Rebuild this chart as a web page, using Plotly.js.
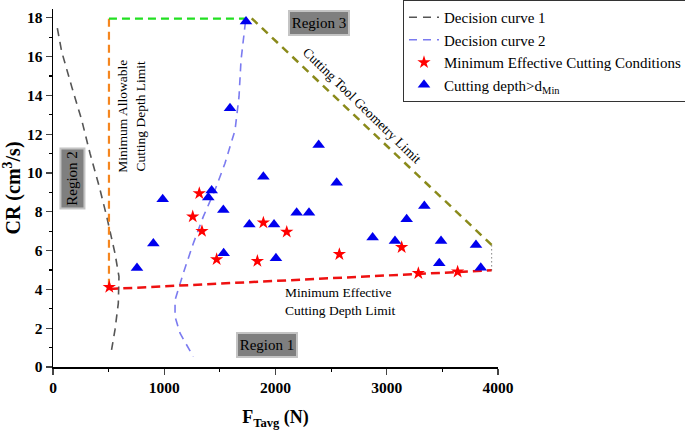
<!DOCTYPE html>
<html>
<head>
<meta charset="utf-8">
<script src="https://cdn.plot.ly/plotly-3.0.1.min.js"></script>
<style>html,body{margin:0;padding:0;background:#fff}#chart{width:685px;height:430px}</style>
</head>
<body>
<div id="chart"></div>
<script>
// Decision curves
const dc1X = [39, 78, 168, 258, 333, 416, 483, 557, 593, 587, 557, 521];
const dc1Y = [17.46, 16.25, 14.45, 12.73, 11.0, 9.29, 7.75, 5.86, 4.66, 3.28, 1.91, 0.7];
const dc2X = [1730, 1690, 1672, 1636, 1546, 1456, 1351, 1261, 1171, 1097, 1097, 1142, 1261];
const dc2Y = [17.8, 15.8, 13.93, 12.2, 10.5, 9.12, 7.75, 6.37, 4.83, 3.45, 2.59, 1.74, 0.53];
// Limits
const minDepthX = [503, 503];
const minDepthY = [17.95, 4.06];
const crLimitX = [503, 1740];
const crLimitY = [17.95, 17.95];
const geomX = [1786, 3943];
const geomY = [17.97, 6.29];
const effX = [506, 3943];
const effY = [4.02, 4.98];
const ftX = [3943, 3943];
const ftY = [4.98, 6.29];
// Points
const starX = [506, 1315, 1256, 1339, 1471, 1837, 1891, 2101, 2574, 3134, 3284, 3637];
const starY = [4.12, 8.95, 7.75, 7.0, 5.55, 5.46, 7.44, 6.96, 5.81, 6.17, 4.83, 4.91];
const triX = [755, 902, 986, 1396, 1426, 1531, 1591, 1735, 1534, 1765, 1891, 1987, 2004, 2190, 2301, 2388, 2550, 2873, 3074, 3179, 3338, 3488, 3472, 3802, 3845];
const triY = [5.1, 6.37, 8.64, 8.73, 9.09, 8.09, 13.33, 17.8, 5.86, 7.35, 9.81, 7.35, 5.6, 7.95, 7.95, 11.44, 9.5, 6.68, 6.49, 7.61, 8.3, 6.49, 5.35, 6.29, 5.12];

const F = 'Liberation Serif';
const line = (x, y, color, width, dash, name, show) => ({
  x: x, y: y, type: 'scatter', mode: 'lines', name: name || ' ', showlegend: !!show,
  line: {color: color, width: width, dash: dash}, hoverinfo: 'skip', cliponaxis: false
});

const traces = [
  line(dc1X, dc1Y, '#555555', 1.6, '8px,6px', 'Decision curve 1', true),
  line(dc2X, dc2Y, '#7b7bf0', 1.6, '8px,6px', 'Decision curve 2', true),
  line(minDepthX, minDepthY, '#f5861f', 2.2, '8px,5px'),
  line(crLimitX, crLimitY, '#22e022', 2.2, '8px,5px'),
  line(geomX, geomY, '#8a8a1a', 2.5, '8px,6px'),
  line(effX, effY, '#ee1111', 2.5, '9px,5px'),
  line(ftX, ftY, '#444444', 1, '1px,3px'),
  {x: starX, y: starY, type: 'scatter', mode: 'markers', name: 'Minimum Effective Cutting Conditions',
   marker: {symbol: 'star', size: 10, color: '#ff0000'}, cliponaxis: false},
  {x: triX, y: triY, type: 'scatter', mode: 'markers', name: 'Cutting depth>d<sub>Min</sub>',
   marker: {symbol: 'triangle-up', size: 11, color: '#0000ee'}, cliponaxis: false}
];

const region = (text, x, y, angle) => ({
  x: x, y: y, xref: 'x', yref: 'y', text: text, showarrow: false, textangle: angle || 0,
  font: {family: F, size: 15, color: '#000'}, bgcolor: '#7f7f7f', bordercolor: '#c4c4c4',
  borderwidth: 2, borderpad: 1, width: 56, height: 20
});
const label = (text, x, y, angle, size, align) => ({
  x: x, y: y, xref: 'x', yref: 'y', text: text, showarrow: false, textangle: angle || 0,
  font: {family: F, size: size || 13.5, color: '#000'}, align: align || 'center'
});

const layout = {
  width: 685, height: 430,
  margin: {l: 53, r: 187, t: 9, b: 63, autoexpand: false},
  paper_bgcolor: '#fff', plot_bgcolor: '#fff',
  font: {family: F, color: '#000'},
  xaxis: {
    range: [0, 4000], tickvals: [0, 1000, 2000, 3000, 4000], showgrid: false, zeroline: false,
    showline: true, linecolor: '#000', linewidth: 1.5, ticks: 'outside', ticklen: 6, tickwidth: 1.2,
    minor: {dtick: 500, ticks: 'outside', ticklen: 3, tickcolor: '#000', showgrid: false},
    tickfont: {family: F, size: 15.5, color: '#000', weight: 'bold'},
    title: {text: '<b>F<sub>Tavg</sub> (N)</b>', font: {family: F, size: 18, color: '#000'}, standoff: 18}
  },
  yaxis: {
    range: [0, 18.45], tickvals: [0, 2, 4, 6, 8, 10, 12, 14, 16, 18], showgrid: false, zeroline: false,
    showline: true, linecolor: '#000', linewidth: 1.5, ticks: 'outside', ticklen: 6, tickwidth: 1.2,
    minor: {dtick: 1, ticks: 'outside', ticklen: 3, tickcolor: '#000', showgrid: false},
    tickfont: {family: F, size: 15.5, color: '#000', weight: 'bold'},
    title: {text: '<b>CR (cm<sup>3</sup>/s)</b>', font: {family: F, size: 20, color: '#000'}, standoff: 6}
  },
  legend: {
    x: 0.7865, y: 1.025, xanchor: 'left', yanchor: 'top', bgcolor: '#fff',
    bordercolor: '#333', borderwidth: 1, font: {family: F, size: 15, color: '#000'},
    tracegroupgap: 0, itemwidth: 30
  },
  annotations: [
    region('Region 3', 2391, 17.74),
    region('Region 2', 175, 9.74, -90),
    region('Region 1', 1924, 1.15),
    label('CR Limit', 1151, 18.46),
    label('Minimum Allowable<br>Cutting Depth Limit', 710, 12.95, -90),
    label('Cutting Tool Geometry Limit', 2780, 13.5, 44.3),
    label('Minimum Effective<br>Cutting Depth Limit', 2580, 3.38, 0, 13.5, 'left'),
    label("F'<sub>T</sub> Limit", 4225, 5.64)
  ]
};

Plotly.newPlot('chart', traces, layout, {displayModeBar: false, staticPlot: true});
</script>
</body>
</html>
